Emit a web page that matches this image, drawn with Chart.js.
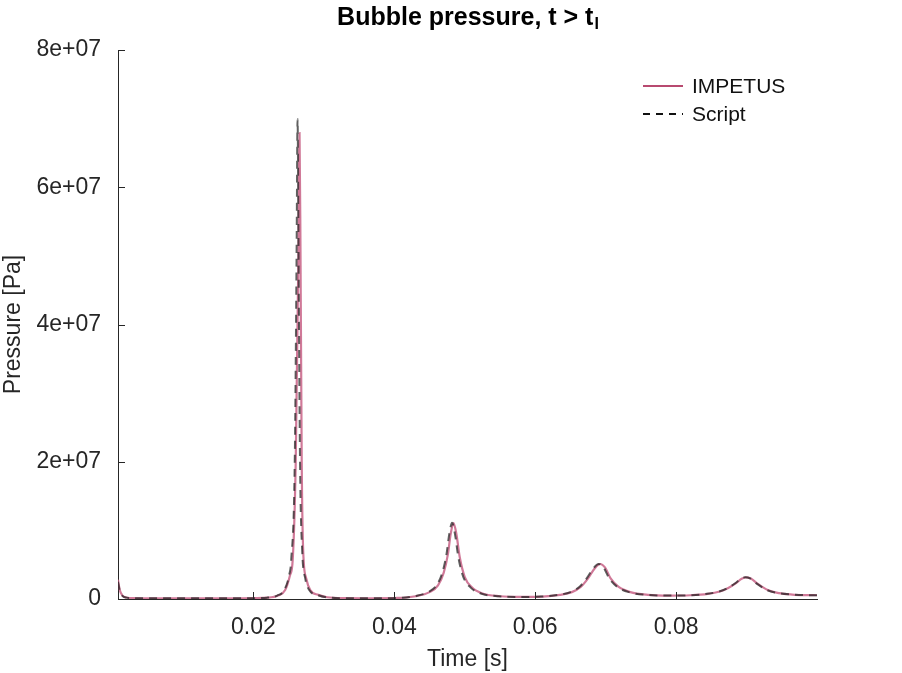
<!DOCTYPE html>
<html>
<head>
<meta charset="utf-8">
<script src="https://cdn.jsdelivr.net/npm/chart.js@4.4.1/dist/chart.umd.min.js"></script>
<style>
  html, body { margin: 0; padding: 0; background: #fff; }
  #wrap { width: 902px; height: 673px; }
</style>
</head>
<body>
<div id="wrap"><canvas id="chart" width="902" height="673"></canvas></div>
<script>
// Bubble pressure after t_I: IMPETUS vs script
const timeImpetus = [
  0.00077, 0.0010, 0.0014, 0.0020, 0.0030, 0.0060, 0.0120, 0.0180,
  0.0221, 0.0235, 0.0245, 0.0252, 0.02557, 0.0260, 0.02638, 0.02654, 0.02668, 0.02685, 0.02706, 0.02749, 0.02806, 0.0292, 0.03048, 0.0330, 0.0370,
  0.0405, 0.0430, 0.0450, 0.0462, 0.0470, 0.0476, 0.0480, 0.0484, 0.0488, 0.0493, 0.0500, 0.0510, 0.0525, 0.0550, 0.0580,
  0.0610, 0.0635, 0.0652, 0.0665, 0.0675, 0.0684, 0.0692, 0.0699, 0.0707, 0.0718, 0.0735, 0.0760, 0.0790,
  0.0820, 0.0845, 0.0862, 0.0874, 0.0885, 0.0893, 0.0899, 0.0906, 0.0916, 0.0930, 0.0946, 0.0965, 0.0985, 0.1000
];
const pImpetus = [
  2.8e6, 1.4e6, 5e5, 2.2e5, 1.3e5, 1e5, 1e5, 1.1e5,
  2e5, 5e5, 1.3e6, 3.5e6, 5.7e6, 2e7, 5e7, 6.79e7, 5e7, 2e7, 7e6, 3e6, 1.3e6, 6e5, 2.5e5, 1.2e5, 1e5,
  1.5e5, 4e5, 1.0e6, 2.0e6, 3.8e6, 6.5e6, 9.5e6, 1.107e7, 9.5e6, 6.0e6, 3.2e6, 1.7e6, 8e5, 4e5, 3e5,
  3.5e5, 6e5, 1.0e6, 1.8e6, 3.0e6, 4.4e6, 5.1e6, 4.6e6, 3.0e6, 1.8e6, 1.0e6, 6e5, 5e5,
  5.5e5, 7.5e5, 1.1e6, 1.6e6, 2.3e6, 2.95e6, 3.16e6, 3.0e6, 2.2e6, 1.3e6, 8.5e5, 6.5e5, 5.7e5, 5.5e5
];

const timeScript = [
  0.00077, 0.0010, 0.0014, 0.0020, 0.0030, 0.0060, 0.0120, 0.0180,
  0.02195, 0.02337, 0.02436, 0.02507, 0.02536, 0.02586, 0.02612, 0.02626, 0.0264, 0.02661, 0.02692, 0.02735, 0.02792, 0.02905, 0.03033, 0.03289, 0.0370,
  0.0403, 0.0428, 0.0448, 0.0460, 0.0468, 0.0474, 0.0478, 0.0482, 0.0486, 0.0491, 0.0498, 0.0508, 0.0523, 0.0548, 0.0580,
  0.0608, 0.0633, 0.0650, 0.0663, 0.0673, 0.0682, 0.0690, 0.0697, 0.0705, 0.0716, 0.0733, 0.0758, 0.0790,
  0.0819, 0.0844, 0.0861, 0.0873, 0.0884, 0.0892, 0.0898, 0.0905, 0.0915, 0.0929, 0.0945, 0.0965, 0.0985, 0.1000
];
const pScript = [
  2.5e6, 1.3e6, 4.5e5, 2e5, 1.2e5, 1e5, 1e5, 1.1e5,
  2e5, 5e5, 1.3e6, 3.5e6, 5.7e6, 2e7, 5e7, 6.99e7, 5e7, 2e7, 7e6, 3e6, 1.3e6, 6e5, 2.5e5, 1.2e5, 1e5,
  1.5e5, 4e5, 1.0e6, 2.0e6, 3.8e6, 6.5e6, 9.5e6, 1.11e7, 9.5e6, 6.0e6, 3.2e6, 1.7e6, 8e5, 4e5, 3e5,
  3.5e5, 6e5, 1.0e6, 1.8e6, 3.0e6, 4.4e6, 5.1e6, 4.6e6, 3.0e6, 1.8e6, 1.0e6, 6e5, 5e5,
  5.5e5, 7.5e5, 1.1e6, 1.6e6, 2.3e6, 2.95e6, 3.16e6, 3.0e6, 2.2e6, 1.3e6, 8.5e5, 6.5e5, 5.7e5, 5.5e5
];

const xTicks = [0.02, 0.04, 0.06, 0.08];
const xTickLabels = ['0.02', '0.04', '0.06', '0.08'];
const yTicks = [0, 2e7, 4e7, 6e7, 8e7];
const yTickLabels = ['0', '2e+07', '4e+07', '6e+07', '8e+07'];

const FONT = "'Liberation Sans', Arial, sans-serif";
const AXIS_COLOR = '#262626';
const COLORS = {
  impetus: { line: 'rgba(196, 88, 126, 0.8)', legend: '#b84a70' },
  script:  { line: 'rgba(35, 35, 35, 0.72)', legend: '#111111' },
};

const toPoints = (xs, ys) => xs.map((x, i) => ({ x: x, y: ys[i] }));

// title with subscript, inward ticks and legend
const decorPlugin = {
  id: 'decor',
  afterDraw(chart) {
    const ctx = chart.ctx;
    const area = chart.chartArea;
    const xs = chart.scales.x;
    const ys = chart.scales.y;

    ctx.save();
    // inward tick marks
    ctx.strokeStyle = AXIS_COLOR;
    ctx.lineWidth = 1;
    ctx.beginPath();
    xTicks.forEach(v => {
      const px = Math.round(xs.getPixelForValue(v)) + 0.5;
      ctx.moveTo(px, area.bottom);
      ctx.lineTo(px, area.bottom - 7);
    });
    yTicks.forEach(v => {
      const py = Math.round(ys.getPixelForValue(v)) + 0.5;
      ctx.moveTo(area.left, py);
      ctx.lineTo(area.left + 7, py);
    });
    ctx.stroke();

    // title
    const main = 'Bubble pressure, t > t';
    const sub = 'I';
    ctx.fillStyle = '#000';
    ctx.textBaseline = 'alphabetic';
    ctx.textAlign = 'left';
    ctx.font = 'bold 25px ' + FONT;
    const w1 = ctx.measureText(main).width;
    ctx.font = 'bold 16px ' + FONT;
    const w2 = ctx.measureText(sub).width;
    const cx = (area.left + area.right) / 2;
    const x0 = cx - (w1 + w2) / 2;
    ctx.font = 'bold 25px ' + FONT;
    ctx.fillText(main, x0, 25);
    ctx.font = 'bold 16px ' + FONT;
    ctx.fillText(sub, x0 + w1 + 1, 29);

    // legend
    const items = [
      { label: 'IMPETUS', color: COLORS.impetus.legend, dash: [], y: 86 },
      { label: 'Script', color: COLORS.script.legend, dash: [7, 6], y: 114 },
    ];
    ctx.font = '21px ' + FONT;
    ctx.textBaseline = 'middle';
    items.forEach(it => {
      ctx.strokeStyle = it.color;
      ctx.lineWidth = 2;
      ctx.setLineDash(it.dash);
      ctx.beginPath();
      ctx.moveTo(643, it.y);
      ctx.lineTo(683, it.y);
      ctx.stroke();
      ctx.setLineDash([]);
      ctx.fillStyle = '#111';
      ctx.fillText(it.label, 692, it.y + 1);
    });
    ctx.restore();
  }
};

const ctx = document.getElementById('chart').getContext('2d');
new Chart(ctx, {
  type: 'line',
  data: {
    datasets: [
      {
        label: 'IMPETUS',
        data: toPoints(timeImpetus, pImpetus),
        borderColor: COLORS.impetus.line,
        borderWidth: 2.2,
        pointRadius: 0,
        cubicInterpolationMode: 'monotone',
        fill: false,
        order: 2,
      },
      {
        label: 'Script',
        data: toPoints(timeScript, pScript),
        borderColor: COLORS.script.line,
        borderWidth: 2,
        borderDash: [8, 6],
        pointRadius: 0,
        cubicInterpolationMode: 'monotone',
        fill: false,
        order: 1,
      }
    ]
  },
  options: {
    responsive: false,
    animation: false,
    events: [],
    layout: { padding: { left: 0, right: 85, top: 50, bottom: 0 } },
    plugins: {
      legend: { display: false },
      title: { display: false },
      tooltip: { enabled: false },
    },
    scales: {
      x: {
        type: 'linear',
        min: 0.00077,
        max: 0.1,
        afterBuildTicks: s => { s.ticks = xTicks.map(v => ({ value: v })); },
        afterFit: s => { s.height = 74; },
        grid: { drawOnChartArea: false, drawTicks: false },
        border: { display: true, color: AXIS_COLOR, width: 1 },
        ticks: {
          color: '#262626',
          padding: 15,
          maxRotation: 0,
          autoSkip: false,
          font: { family: FONT, size: 23 },
          callback: v => xTickLabels[xTicks.indexOf(v)] ?? '',
        },
        title: {
          display: true,
          text: 'Time [s]',
          color: '#262626',
          font: { family: FONT, size: 23 },
          padding: { top: 0, bottom: 0 },
        },
      },
      y: {
        type: 'linear',
        min: 0,
        max: 8e7,
        afterBuildTicks: s => { s.ticks = yTicks.map(v => ({ value: v })); },
        afterFit: s => { s.width = 118; },
        grid: { drawOnChartArea: false, drawTicks: false },
        border: { display: true, color: AXIS_COLOR, width: 1 },
        ticks: {
          color: '#262626',
          padding: 17,
          autoSkip: false,
          font: { family: FONT, size: 23 },
          callback: v => yTickLabels[yTicks.indexOf(v)] ?? '',
        },
        title: {
          display: true,
          text: 'Pressure [Pa]',
          color: '#262626',
          font: { family: FONT, size: 23 },
          padding: { top: 0, bottom: 0 },
        },
      }
    }
  },
  plugins: [decorPlugin]
});
</script>
</body>
</html>
